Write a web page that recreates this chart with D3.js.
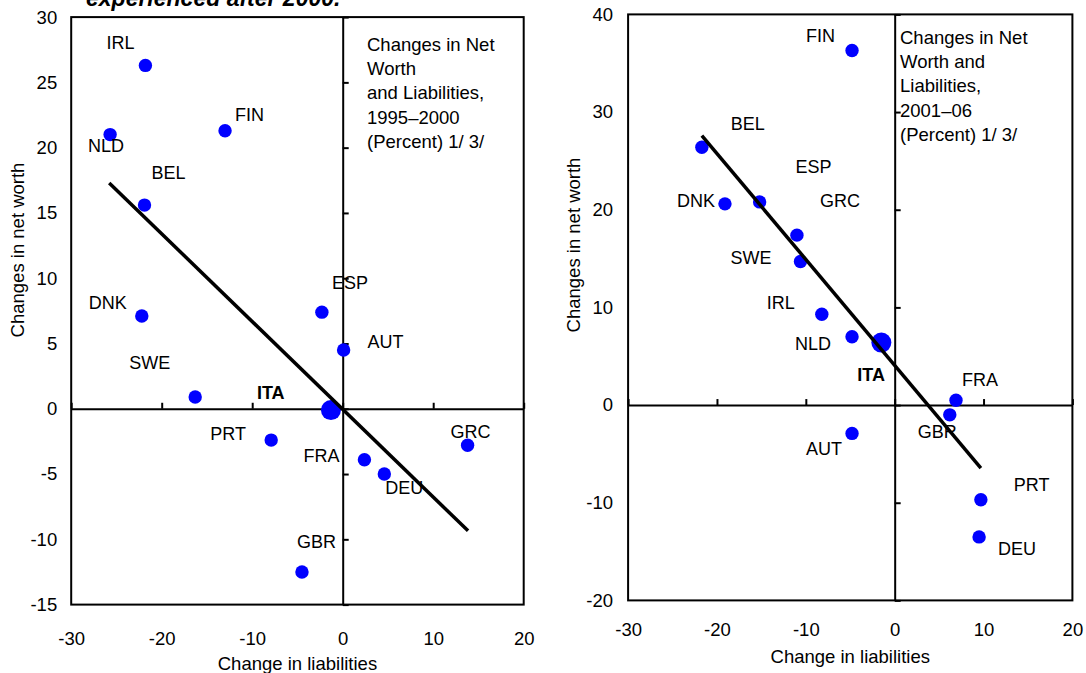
<!DOCTYPE html>
<html lang="en">
<head>
<meta charset="UTF-8" />
<title>Changes in Net Worth and Liabilities</title>
<script src="https://cdn.jsdelivr.net/npm/d3@7"></script>
<style>
  body { margin: 0; background: #fff; }
  text { font-family: Arial, "Liberation Sans", sans-serif; fill: #000; }
</style>
</head>
<body>
<svg id="chart" width="1086" height="673"></svg>
<script>
// ---- data: 1995-2000 ----
const countries1 = ["IRL", "NLD", "FIN", "BEL", "DNK", "SWE", "ESP", "AUT", "ITA", "PRT", "FRA", "DEU", "GRC", "GBR"];
const liab1 = [-21.8, -25.7, -13.0, -21.9, -22.2, -16.3, -2.3, 0.1, -1.3, -7.9, 2.4, 4.6, 13.8, -4.5];
const netWorth1 = [26.3, 21.0, 21.3, 15.6, 7.1, 0.9, 7.4, 4.5, -0.1, -2.4, -3.9, -5.0, -2.8, -12.5];
const fitX1 = [-25.8, 13.85];
const fitY1 = [17.3, -9.35];
const yTicks1 = [-15, -10, -5, 0, 5, 10, 15, 20, 25, 30];
const notes1 = ["Changes in Net", "Worth", "and Liabilities,", "1995\u20132000", "(Percent) 1/ 3/"];

// ---- data: 2001-06 ----
const countries2 = ["FIN", "BEL", "DNK", "ESP", "GRC", "SWE", "IRL", "NLD", "ITA", "FRA", "GBR", "AUT", "PRT", "DEU"];
const liab2 = [-4.8, -21.7, -19.1, -15.2, -11.0, -10.6, -8.2, -4.8, -1.5, 6.9, 6.2, -4.8, 9.7, 9.5];
const netWorth2 = [36.3, 26.4, 20.6, 20.8, 17.4, 14.7, 9.3, 7.0, 6.4, 0.5, -1.0, -2.9, -9.7, -13.5];
const fitX2 = [-21.7, 9.7];
const fitY2 = [27.6, -6.45];
const yTicks2 = [-20, -10, 0, 10, 20, 30, 40];
const notes2 = ["Changes in Net", "Worth and", "Liabilities,", "2001\u201306", "(Percent) 1/ 3/"];

const xTicks = [-30, -20, -10, 0, 10, 20];

// label offsets from the dot centre (px)
const labelOff1 = {
  IRL: [-39, -16], NLD: [-22, 17], FIN: [10, -10], BEL: [7, -26], DNK: [-53, -7],
  SWE: [-66, -28], ESP: [10, -23], AUT: [24, -2], ITA: [-74, -11], PRT: [-61, 0],
  FRA: [-61, 2], DEU: [1, 20], GRC: [-17, -7], GBR: [-5, -24]
};
const labelOff2 = {
  FIN: [-46, -9], BEL: [29, -17], DNK: [-48, 3], ESP: [36, -29], GRC: [23, -28],
  SWE: [-70, 3], IRL: [-55, -5], NLD: [-57, 13], ITA: [-24, 38], FRA: [6, -14],
  GBR: [-32, 23], AUT: [-46, 22], PRT: [33, -9], DEU: [19, 18]
};

const svg = d3.select("#chart");
const plain = d => String(d); // keep the ASCII hyphen for negatives

function panel(cfg) {
  const x = d3.scaleLinear().domain([-30, 20]).range(cfg.xRange);
  const y = d3.scaleLinear().domain(cfg.yDomain).range(cfg.yRange);
  const g = svg.append("g");

  // outer tick labels
  g.append("g")
    .attr("transform", `translate(${cfg.xRange[0]},0)`)
    .call(d3.axisLeft(y).tickValues(cfg.yTicks).tickFormat(plain).tickSize(0).tickPadding(cfg.yPad))
    .attr("font-size", 18.5).attr("font-family", null)
    .call(a => a.select(".domain").remove());

  g.append("g")
    .attr("transform", `translate(0,${cfg.yRange[0]})`)
    .call(d3.axisBottom(x).tickValues(xTicks).tickFormat(plain).tickSize(0).tickPadding(cfg.xPad))
    .attr("font-size", 18.5).attr("font-family", null)
    .call(a => a.select(".domain").remove());

  // frame
  g.append("rect")
    .attr("x", cfg.xRange[0]).attr("y", cfg.yRange[1])
    .attr("width", cfg.xRange[1] - cfg.xRange[0])
    .attr("height", cfg.yRange[0] - cfg.yRange[1])
    .attr("fill", "none").attr("stroke", "#000").attr("stroke-width", 2);

  // zero axes with small ticks
  g.append("g")
    .attr("transform", `translate(${x(0)},0)`)
    .call(d3.axisRight(y).tickValues(cfg.yTicks).tickSize(6).tickSizeOuter(0).tickFormat(""))
    .call(a => a.selectAll("path,line").attr("stroke-width", 2));

  g.append("g")
    .attr("transform", `translate(0,${y(0)})`)
    .call(d3.axisTop(x).tickValues(xTicks).tickSize(6).tickSizeOuter(0).tickFormat(""))
    .call(a => a.selectAll("path,line").attr("stroke-width", 2));

  // dots
  const pts = cfg.names.map((n, i) => ({ n, lx: cfg.liab[i], nw: cfg.nw[i] }));
  g.selectAll("circle").data(pts).enter().append("circle")
    .attr("cx", d => x(d.lx)).attr("cy", d => y(d.nw))
    .attr("r", d => d.n === "ITA" ? 10 : 6.7)
    .attr("fill", "#0000ff");

  // fitted line
  g.append("line")
    .attr("x1", x(cfg.fitX[0])).attr("y1", y(cfg.fitY[0]))
    .attr("x2", x(cfg.fitX[1])).attr("y2", y(cfg.fitY[1]))
    .attr("stroke", "#000").attr("stroke-width", 3.5);

  // country labels
  g.selectAll("text.lbl").data(pts).enter().append("text")
    .attr("class", "lbl")
    .attr("x", d => x(d.lx) + cfg.off[d.n][0])
    .attr("y", d => y(d.nw) + cfg.off[d.n][1])
    .attr("font-size", 18)
    .attr("font-weight", d => d.n === "ITA" ? "bold" : null)
    .text(d => d.n);

  // note box text
  g.append("text")
    .attr("font-size", 18.5)
    .selectAll("tspan").data(cfg.notes).enter().append("tspan")
    .attr("x", cfg.noteX).attr("y", (d, i) => cfg.noteY + i * 24.2)
    .text(d => d);

  // axis titles
  g.append("text")
    .attr("x", (cfg.xRange[0] + cfg.xRange[1]) / 2)
    .attr("y", cfg.xTitleY)
    .attr("text-anchor", "middle").attr("font-size", 18.5)
    .text("Change in liabilities");

  g.append("text")
    .attr("transform", `translate(${cfg.yTitleX},${cfg.yTitleY}) rotate(-90)`)
    .attr("text-anchor", "middle").attr("font-size", 18.5)
    .text("Changes in net worth");
}

panel({
  names: countries1, liab: liab1, nw: netWorth1, fitX: fitX1, fitY: fitY1,
  yDomain: [-15, 30], yTicks: yTicks1, notes: notes1, off: labelOff1,
  xRange: [71.2, 523.7], yRange: [604.6, 17.1],
  yPad: 14, xPad: 27, noteX: 367, noteY: 51,
  xTitleY: 670, yTitleX: 24, yTitleY: 250
});

panel({
  names: countries2, liab: liab2, nw: netWorth2, fitX: fitX2, fitY: fitY2,
  yDomain: [-20, 40], yTicks: yTicks2, notes: notes2, off: labelOff2,
  xRange: [628.1, 1072.4], yRange: [600.4, 14.4],
  yPad: 15, xPad: 22, noteX: 900, noteY: 44,
  xTitleY: 663, yTitleX: 580, yTitleY: 245
});

// clipped heading carried over from the page above
svg.append("text")
  .attr("x", 86).attr("y", 6)
  .attr("font-size", 23).attr("font-weight", "bold").attr("font-style", "italic")
  .text("experienced after 2000.");
</script>
</body>
</html>
